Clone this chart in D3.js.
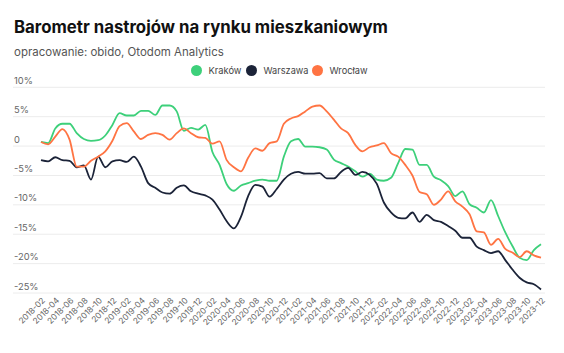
<!DOCTYPE html>
<html><head><meta charset="utf-8">
<script src="https://cdn.jsdelivr.net/npm/d3@7"></script>
<style>
html,body{margin:0;padding:0;background:#fff;}
svg{display:block;font-family:Inter,"Noto Sans",sans-serif;}
</style></head>
<body>
<svg id="c" width="564" height="353"></svg>
<script>
const months = [];
for (let y = 2018; y <= 2023; y++) for (let m = 1; m <= 12; m++) {
  if (y === 2018 && m < 2) continue;
  months.push(y + "-" + String(m).padStart(2, "0"));
}
const seriesNames = ["Kraków", "Warszawa", "Wrocław"];
const krakow = [0.7,0.5,3.0,3.8,3.8,2.2,1.2,0.9,1.0,1.8,3.6,5.6,5.2,5.2,6.0,6.0,5.3,6.9,6.9,5.9,2.6,3.1,2.8,3.6,-1.0,-3.2,-6.5,-7.6,-6.7,-6.3,-5.9,-5.7,-5.9,-5.9,-1.8,0.8,1.2,-0.1,-0.1,-0.2,-0.6,-2.3,-2.9,-3.5,-4.3,-5.2,-4.7,-5.7,-5.9,-5.4,-2.9,-0.5,-0.6,-3.2,-3.2,-5.2,-5.8,-6.8,-8.5,-7.7,-9.9,-10.5,-11.3,-9.2,-11.9,-14.7,-17.0,-19.0,-19.4,-17.7,-16.7];
const warszawa = [-2.4,-2.6,-1.9,-2.4,-2.5,-3.6,-3.3,-5.7,-1.8,-3.6,-2.6,-2.4,-2.7,-1.8,-3.5,-6.3,-7.1,-7.9,-8.1,-7.1,-6.7,-7.7,-8.1,-8.4,-9.1,-10.8,-12.8,-14.0,-12.0,-8.5,-6.6,-6.9,-8.6,-7.3,-5.7,-4.7,-4.4,-4.7,-4.7,-4.6,-5.5,-5.5,-4.4,-3.7,-4.9,-4.4,-4.9,-6.4,-9.6,-11.3,-12.2,-12.3,-11.3,-12.9,-11.7,-12.6,-12.9,-13.6,-14.4,-15.6,-15.6,-17.1,-17.7,-18.2,-17.9,-19.4,-21.0,-22.4,-23.2,-23.5,-24.4];
const wroclaw = [0.7,0.3,1.6,2.9,1.1,-3.5,-3.5,-2.5,-1.8,-0.9,0.9,3.4,3.9,2.5,1.2,1.9,2.2,1.9,1.1,2.2,3.0,2.2,1.5,1.4,0.4,0.8,-2.4,-3.6,-4.3,-2.0,-0.4,-0.8,0.5,0.8,3.8,4.7,5.1,5.9,6.7,6.9,5.9,4.5,3.0,2.2,0.2,-0.9,-0.2,0.1,0.5,-1.2,-1.8,-3.2,-5.0,-7.8,-8.2,-10.0,-9.1,-7.7,-9.4,-10.3,-11.6,-14.5,-14.7,-16.8,-15.8,-17.5,-18.1,-18.9,-17.9,-18.6,-19.0];
const yTicks = [10, 5, 0, -5, -10, -15, -20, -25];
const yTickLabels = ["10%", "5%", "0", "-5%", "-10%", "-15%", "-20%", "-25%"];
const colors = ["#3dd07a", "#1b2338", "#ff7443"];

const svg = d3.select("#c");
const x = d3.scalePoint().domain(months).range([41, 541]);
const y = d3.scaleLinear().domain([-25, 10]).range([293, 87.3]);

function fit(sel, target) {
  const w = sel.node().getComputedTextLength();
  const fs = parseFloat(sel.attr("font-size"));
  sel.attr("font-size", fs * target / w);
}

const title = svg.append("text").attr("x", 14).attr("y", 33).attr("font-size", 17).attr("font-weight", 700)
  .attr("fill", "#111").text("Barometr nastrojów na rynku mieszkaniowym");
fit(title, 374);
const sub = svg.append("text").attr("x", 14).attr("y", 55.5).attr("font-size", 12)
  .attr("fill", "#555").text("opracowanie: obido, Otodom Analytics");
fit(sub, 210);

// legend
const legX = [196.5, 251.5, 317.5];
const legW = [33, 45, 38];
seriesNames.forEach((n, i) => {
  svg.append("circle").attr("cx", legX[i]).attr("cy", 70.5).attr("r", 5.5).attr("fill", colors[i]);
  const t = svg.append("text").attr("x", legX[i] + 12).attr("y", 74.2).attr("font-size", 10)
    .attr("fill", "#444").text(n);
  fit(t, legW[i]);
});

// y grid
const gy = svg.append("g");
yTicks.forEach((t, i) => {
  gy.append("line").attr("x1", 13).attr("x2", 545).attr("y1", y(t)).attr("y2", y(t))
    .attr("stroke", "#ececec").attr("stroke-width", 1);
  gy.append("text").attr("x", 14).attr("y", y(t) - 3.5).attr("font-size", 9.3)
    .attr("fill", "#666").text(yTickLabels[i]);
});

// x labels
const gx = svg.append("g");
months.forEach((m, i) => {
  if (i % 2 !== 0) return;
  gx.append("text").attr("text-anchor", "end").attr("font-size", 8.3).attr("fill", "#666")
    .attr("transform", `translate(${x(m) + 2.5},${299}) rotate(-45)`)
    .attr("dy", "0.35em").text(m);
});

const line = d3.line().x((d, i) => x(months[i])).y(d => y(d)).curve(d3.curveMonotoneX);
[krakow, warszawa, wroclaw].forEach((s, i) => {
  svg.append("path").datum(s).attr("d", line).attr("fill", "none")
    .attr("stroke", colors[i]).attr("stroke-width", 1.8).attr("stroke-linejoin", "round");
});
</script>
</body></html>
